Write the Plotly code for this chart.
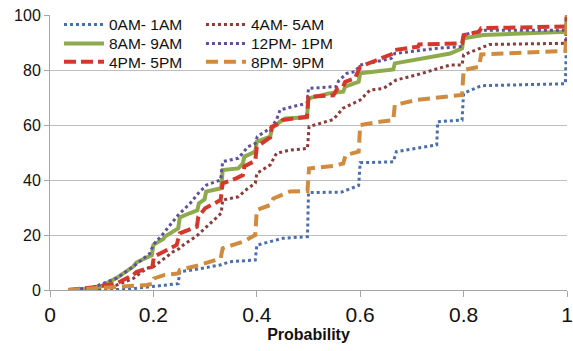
import plotly.graph_objects as go

# ---- data ----
names = ["0AM- 1AM", "4AM- 5AM", "8AM- 9AM", "12PM- 1PM", "4PM- 5PM", "8PM- 9PM"]

x_0am = [0.035, 0.10, 0.15, 0.20, 0.248, 0.251, 0.277, 0.329, 0.348, 0.397, 0.400, 0.45, 0.498, 0.500,
         0.564, 0.597, 0.600, 0.664, 0.670, 0.748, 0.750, 0.797, 0.800, 0.834, 0.997, 1.0]
y_0am = [0, 0, 0.3, 1.2, 2.3, 6.7, 7.3, 9.1, 10.3, 10.9, 16.3, 18.8, 19.4, 35.4,
         35.6, 38.0, 46.3, 46.6, 50.3, 52.8, 61.2, 61.8, 71.5, 74.3, 75.0, 100]

x_4am = [0.035, 0.08, 0.103, 0.129, 0.161, 0.187, 0.2, 0.213, 0.238, 0.251, 0.258, 0.284, 0.303, 0.331,
         0.334, 0.364, 0.383, 0.397, 0.400, 0.426, 0.438, 0.464, 0.484, 0.498, 0.501, 0.522, 0.548,
         0.567, 0.600, 0.619, 0.645, 0.670, 0.709, 0.741, 0.774, 0.797, 0.800, 0.832, 0.85, 0.997, 1.0]
y_4am = [0, 0.2, 0.5, 1.8, 4.2, 7.9, 8.5, 10.3, 13.9, 15.2, 16.4, 19.7, 23, 27.9,
         32.7, 33.9, 37, 38.8, 42.4, 45.5, 49.7, 50.9, 51.2, 51.5, 59.4, 60.6, 62,
         66.1, 69.1, 72.7, 73.3, 76.4, 78.2, 80, 81.8, 81.8, 85.5, 87.9, 89.3, 89.7, 100]

x_8am = [0.035, 0.06, 0.097, 0.13, 0.161, 0.167, 0.197, 0.200, 0.219, 0.222, 0.248, 0.251, 0.27, 0.285,
         0.288, 0.299, 0.302, 0.331, 0.334, 0.364, 0.373, 0.376, 0.397, 0.400, 0.426, 0.429, 0.445,
         0.455, 0.497, 0.500, 0.54, 0.567, 0.571, 0.597, 0.600, 0.664, 0.667, 0.774, 0.797, 0.800,
         0.838, 0.997, 1.0]
y_8am = [0, 0.2, 1.2, 4.5, 8.5, 10, 12.7, 16.4, 18.5, 19.4, 22.4, 26.4, 27.9, 29,
         31.5, 33, 35.8, 37, 43.6, 44.2, 46, 48.5, 50.3, 53.9, 55.8, 58.8, 61.2,
         62.4, 62.8, 69.7, 71.5, 72.1, 74, 75.7, 78.8, 80.2, 82.4, 86, 87.9, 91.5,
         92.7, 93.9, 100]

x_12pm = [0.035, 0.084, 0.129, 0.161, 0.193, 0.2, 0.219, 0.248, 0.271, 0.287, 0.303, 0.330, 0.334,
          0.364, 0.383, 0.397, 0.401, 0.426, 0.438, 0.445, 0.470, 0.497, 0.500, 0.554, 0.558, 0.574,
          0.590, 0.600, 0.660, 0.667, 0.75, 0.797, 0.800, 0.834, 0.997, 1.0]
y_12pm = [0, 1, 4.3, 8.5, 13.3, 16.5, 20.5, 27.3, 31.5, 35.2, 38.2, 40, 46.7,
          47.9, 52.1, 53.3, 55.8, 58.8, 61.8, 65.5, 66.7, 67.9, 73.3, 74, 76, 78.8,
          79.4, 81.8, 84.2, 86, 87.9, 88.5, 92.7, 94.5, 94.5, 100]

x_4pm = [0.035, 0.084, 0.129, 0.161, 0.167, 0.193, 0.198, 0.201, 0.232, 0.245, 0.251, 0.284, 0.287,
         0.300, 0.330, 0.334, 0.36, 0.373, 0.376, 0.397, 0.400, 0.426, 0.429, 0.445, 0.45, 0.497,
         0.500, 0.548, 0.556, 0.567, 0.571, 0.59, 0.600, 0.664, 0.667, 0.712, 0.714, 0.797, 0.800,
         0.830, 0.834, 0.997, 1.0]
y_4pm = [0, 1, 2.4, 5.5, 6.5, 7.9, 8.5, 12.1, 15.2, 16.4, 20.6, 23, 26.7,
         29.7, 32.7, 38.8, 40.6, 41.8, 45, 47, 52, 55.5, 59.4, 60.6, 61.8, 63,
         70.3, 70.8, 73.3, 74, 75.7, 77, 81.2, 86, 87.3, 88.5, 89.3, 89.7, 92.7,
         93.9, 95.2, 95.8, 100]

x_8pm = [0.035, 0.093, 0.161, 0.187, 0.198, 0.201, 0.222, 0.248, 0.251, 0.264, 0.290, 0.330, 0.334,
         0.354, 0.374, 0.397, 0.400, 0.426, 0.432, 0.464, 0.498, 0.501, 0.548, 0.567, 0.572, 0.597,
         0.600, 0.638, 0.664, 0.667, 0.709, 0.774, 0.797, 0.800, 0.830, 0.834, 0.997, 1.0]
y_8pm = [0, 0.7, 1.2, 1.8, 2.2, 4.2, 5.5, 6, 7.3, 7.9, 9.1, 11.5, 15.2,
         16.4, 17.6, 20, 29.1, 30.9, 33.3, 35.8, 36, 44.2, 45.1, 46, 49.1, 50.3,
         60, 61.2, 61.8, 67.3, 69.1, 70.5, 70.9, 80, 81.2, 85.7, 86.9, 100]

x_ticks = [0, 0.2, 0.4, 0.6, 0.8, 1]
x_ticktext = ["0", "0.2", "0.4", "0.6", "0.8", "1"]
y_ticks = [0, 20, 40, 60, 80, 100]

# legend slot for each series: (column, row)
series = [
    (names[0], x_0am, y_0am, "#4A6DAE", 3, "dot", 0, 0),
    (names[1], x_4am, y_4am, "#8C3A3A", 3, "dot", 1, 0),
    (names[2], x_8am, y_8am, "#8DAA4C", 4, "solid", 0, 1),
    (names[3], x_12pm, y_12pm, "#5F4F9E", 3, "dot", 1, 1),
    (names[4], x_4pm, y_4pm, "#D5372C", 4, "12px,5px", 0, 2),
    (names[5], x_8pm, y_8pm, "#D08B3E", 4, "12px,6px", 1, 2),
]
col_x = [0.0174, 0.292]
row_y = [1.026, 0.957, 0.890]

font = "Liberation Sans, Arial, sans-serif"
fig = go.Figure()
legends = {}
for i, (nm, xs, ys, col, w, dash, c, r) in enumerate(series):
    key = "legend" if i == 0 else f"legend{i + 1}"
    fig.add_trace(go.Scatter(x=xs, y=ys, mode="lines", name=nm,
                             line=dict(color=col, width=w, dash=dash),
                             legend=key, showlegend=True, cliponaxis=False))
    legends[key] = dict(x=col_x[c], y=row_y[r], xanchor="left", yanchor="top",
                        bgcolor="rgba(0,0,0,0)", visible=True,
                        font=dict(size=15.5, color="#111111"), itemwidth=40)

fig.update_layout(
    width=573, height=351,
    showlegend=True,
    margin=dict(l=50, r=6, t=15, b=61),
    paper_bgcolor="white", plot_bgcolor="white",
    font=dict(family=font, color="#111111"),
    xaxis=dict(range=[0, 1], tickvals=x_ticks, ticktext=x_ticktext,
               ticks="outside", ticklen=6, tickcolor="#A6A6A6",
               showline=True, linecolor="#A6A6A6", linewidth=1,
               showgrid=False, zeroline=False, automargin=False,
               tickfont=dict(size=21, color="#111111"),
               title=dict(text="<b>Probability</b>", font=dict(size=16, color="#111111"),
                          standoff=2)),
    yaxis=dict(range=[0, 100], tickvals=y_ticks,
               ticks="outside", ticklen=5, tickcolor="#A6A6A6",
               showline=True, linecolor="#A6A6A6", linewidth=1,
               showgrid=True, gridcolor="#BFBFBF", gridwidth=1,
               zeroline=False, automargin=False,
               tickfont=dict(size=16, color="#111111")),
    **legends,
)

fig.write_html("out.html", config={"displayModeBar": False},
               post_script="document.body.style.margin='0';document.body.style.padding='0';")
